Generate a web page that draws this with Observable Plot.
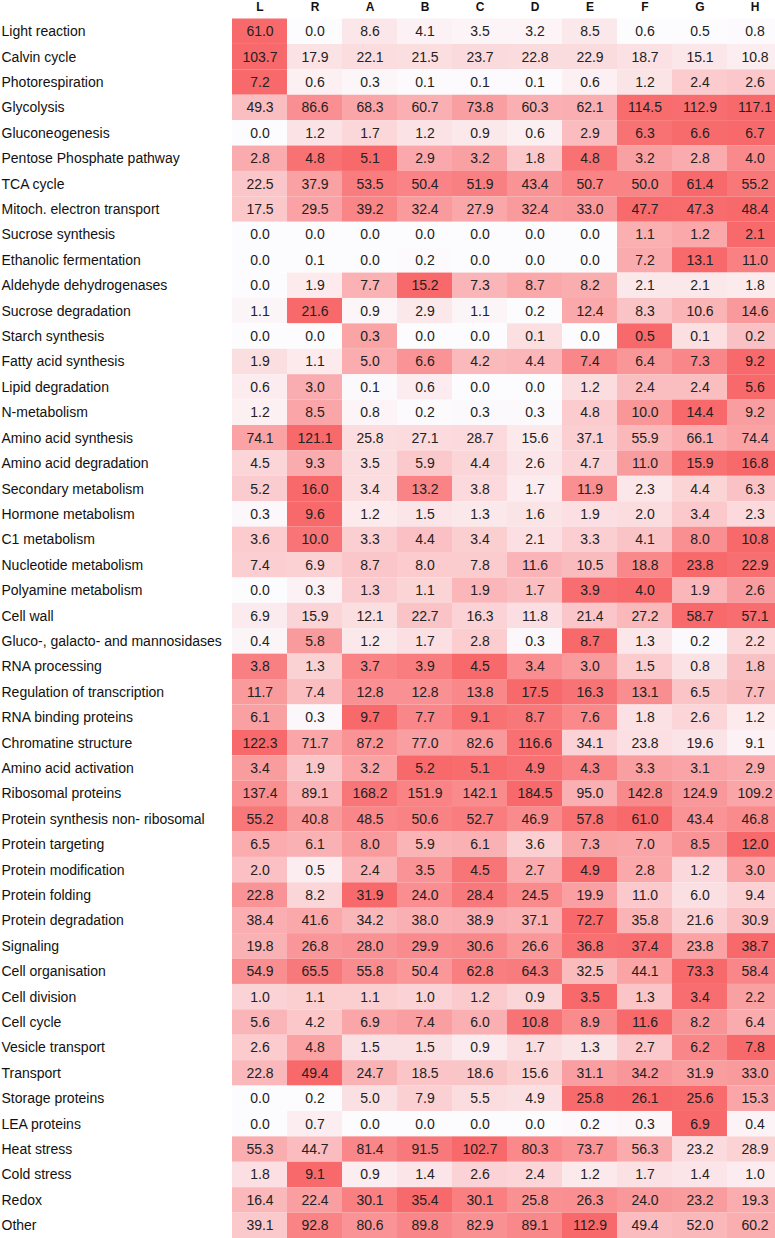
<!DOCTYPE html>
<html>
<head>
<meta charset="utf-8">
<script src="https://cdn.jsdelivr.net/npm/d3@7"></script>
<script src="https://cdn.jsdelivr.net/npm/@observablehq/plot@0.6"></script>
<style>
  html, body { margin: 0; padding: 0; background: #fff; overflow: hidden; }
  #chart svg { display: block; max-width: none !important; }
</style>
</head>
<body>
<div id="chart"></div>
<script>
const categories = [
  "Light reaction", "Calvin cycle", "Photorespiration", "Glycolysis", "Gluconeogenesis",
  "Pentose Phosphate pathway", "TCA cycle", "Mitoch. electron transport", "Sucrose synthesis",
  "Ethanolic fermentation", "Aldehyde dehydrogenases", "Sucrose degradation", "Starch synthesis",
  "Fatty acid synthesis", "Lipid degradation", "N-metabolism", "Amino acid synthesis",
  "Amino acid degradation", "Secondary metabolism", "Hormone metabolism", "C1 metabolism",
  "Nucleotide metabolism", "Polyamine metabolism", "Cell wall", "Gluco-, galacto- and mannosidases",
  "RNA processing", "Regulation of transcription", "RNA binding proteins", "Chromatine structure",
  "Amino acid activation", "Ribosomal proteins", "Protein synthesis non- ribosomal",
  "Protein targeting", "Protein modification", "Protein folding", "Protein degradation",
  "Signaling", "Cell organisation", "Cell division", "Cell cycle", "Vesicle transport",
  "Transport", "Storage proteins", "LEA proteins", "Heat stress", "Cold stress", "Redox", "Other"
];

const columns = ["L", "R", "A", "B", "C", "D", "E", "F", "G", "H"];

const L = [61.0, 103.7, 7.2, 49.3, 0.0, 2.8, 22.5, 17.5, 0.0, 0.0, 0.0, 1.1, 0.0, 1.9, 0.6, 1.2, 74.1, 4.5, 5.2, 0.3, 3.6, 7.4, 0.0, 6.9, 0.4, 3.8, 11.7, 6.1, 122.3, 3.4, 137.4, 55.2, 6.5, 2.0, 22.8, 38.4, 19.8, 54.9, 1.0, 5.6, 2.6, 22.8, 0.0, 0.0, 55.3, 1.8, 16.4, 39.1];
const R = [0.0, 17.9, 0.6, 86.6, 1.2, 4.8, 37.9, 29.5, 0.0, 0.1, 1.9, 21.6, 0.0, 1.1, 3.0, 8.5, 121.1, 9.3, 16.0, 9.6, 10.0, 6.9, 0.3, 15.9, 5.8, 1.3, 7.4, 0.3, 71.7, 1.9, 89.1, 40.8, 6.1, 0.5, 8.2, 41.6, 26.8, 65.5, 1.1, 4.2, 4.8, 49.4, 0.2, 0.7, 44.7, 9.1, 22.4, 92.8];
const A = [8.6, 22.1, 0.3, 68.3, 1.7, 5.1, 53.5, 39.2, 0.0, 0.0, 7.7, 0.9, 0.3, 5.0, 0.1, 0.8, 25.8, 3.5, 3.4, 1.2, 3.3, 8.7, 1.3, 12.1, 1.2, 3.7, 12.8, 9.7, 87.2, 3.2, 168.2, 48.5, 8.0, 2.4, 31.9, 34.2, 28.0, 55.8, 1.1, 6.9, 1.5, 24.7, 5.0, 0.0, 81.4, 0.9, 30.1, 80.6];
const B = [4.1, 21.5, 0.1, 60.7, 1.2, 2.9, 50.4, 32.4, 0.0, 0.2, 15.2, 2.9, 0.0, 6.6, 0.6, 0.2, 27.1, 5.9, 13.2, 1.5, 4.4, 8.0, 1.1, 22.7, 1.7, 3.9, 12.8, 7.7, 77.0, 5.2, 151.9, 50.6, 5.9, 3.5, 24.0, 38.0, 29.9, 50.4, 1.0, 7.4, 1.5, 18.5, 7.9, 0.0, 91.5, 1.4, 35.4, 89.8];
const C = [3.5, 23.7, 0.1, 73.8, 0.9, 3.2, 51.9, 27.9, 0.0, 0.0, 7.3, 1.1, 0.0, 4.2, 0.0, 0.3, 28.7, 4.4, 3.8, 1.3, 3.4, 7.8, 1.9, 16.3, 2.8, 4.5, 13.8, 9.1, 82.6, 5.1, 142.1, 52.7, 6.1, 4.5, 28.4, 38.9, 30.6, 62.8, 1.2, 6.0, 0.9, 18.6, 5.5, 0.0, 102.7, 2.6, 30.1, 82.9];
const D = [3.2, 22.8, 0.1, 60.3, 0.6, 1.8, 43.4, 32.4, 0.0, 0.0, 8.7, 0.2, 0.1, 4.4, 0.0, 0.3, 15.6, 2.6, 1.7, 1.6, 2.1, 11.6, 1.7, 11.8, 0.3, 3.4, 17.5, 8.7, 116.6, 4.9, 184.5, 46.9, 3.6, 2.7, 24.5, 37.1, 26.6, 64.3, 0.9, 10.8, 1.7, 15.6, 4.9, 0.0, 80.3, 2.4, 25.8, 89.1];
const E = [8.5, 22.9, 0.6, 62.1, 2.9, 4.8, 50.7, 33.0, 0.0, 0.0, 8.2, 12.4, 0.0, 7.4, 1.2, 4.8, 37.1, 4.7, 11.9, 1.9, 3.3, 10.5, 3.9, 21.4, 8.7, 3.0, 16.3, 7.6, 34.1, 4.3, 95.0, 57.8, 7.3, 4.9, 19.9, 72.7, 36.8, 32.5, 3.5, 8.9, 1.3, 31.1, 25.8, 0.2, 73.7, 1.2, 26.3, 112.9];
const F = [0.6, 18.7, 1.2, 114.5, 6.3, 3.2, 50.0, 47.7, 1.1, 7.2, 2.1, 8.3, 0.5, 6.4, 2.4, 10.0, 55.9, 11.0, 2.3, 2.0, 4.1, 18.8, 4.0, 27.2, 1.3, 1.5, 13.1, 1.8, 23.8, 3.3, 142.8, 61.0, 7.0, 2.8, 11.0, 35.8, 37.4, 44.1, 1.3, 11.6, 2.7, 34.2, 26.1, 0.3, 56.3, 1.7, 24.0, 49.4];
const G = [0.5, 15.1, 2.4, 112.9, 6.6, 2.8, 61.4, 47.3, 1.2, 13.1, 2.1, 10.6, 0.1, 7.3, 2.4, 14.4, 66.1, 15.9, 4.4, 3.4, 8.0, 23.8, 1.9, 58.7, 0.2, 0.8, 6.5, 2.6, 19.6, 3.1, 124.9, 43.4, 8.5, 1.2, 6.0, 21.6, 23.8, 73.3, 3.4, 8.2, 6.2, 31.9, 25.6, 6.9, 23.2, 1.4, 23.2, 52.0];
const H = [0.8, 10.8, 2.6, 117.1, 6.7, 4.0, 55.2, 48.4, 2.1, 11.0, 1.8, 14.6, 0.2, 9.2, 5.6, 9.2, 74.4, 16.8, 6.3, 2.3, 10.8, 22.9, 2.6, 57.1, 2.2, 1.8, 7.7, 1.2, 9.1, 2.9, 109.2, 46.8, 12.0, 3.0, 9.4, 30.9, 38.7, 58.4, 2.2, 6.4, 7.8, 33.0, 15.3, 0.4, 28.9, 1.0, 19.3, 60.2];

const series = {L, R, A, B, C, D, E, F, G, H};

// Table for the library: each value relative to its row maximum (colour), value itself (label)
const cells = [];
categories.forEach((cat, i) => {
  const rowVals = columns.map(c => series[c][i]);
  const rowMax = d3.max(rowVals) || 1;
  columns.forEach((c, j) => {
    cells.push({row: cat, col: c, value: rowVals[j], rel: rowVals[j] / rowMax});
  });
});

const marginLeft = 232;
const chart = Plot.plot({
  width: 782,
  height: 1238,
  marginLeft,
  marginRight: 0,
  marginTop: 18.5,
  marginBottom: 0,
  style: {fontFamily: "'Liberation Sans', Arial, Helvetica, sans-serif", background: "#fff", maxWidth: "none"},
  x: {domain: columns, padding: 0, round: false, axis: null},
  y: {domain: categories, padding: 0, round: false, axis: null},
  color: {type: "linear", domain: [0, 1], range: ["#FCFCFF", "#F8696B"], interpolate: "rgb"},
  marks: [
    Plot.cell(cells, {x: "col", y: "row", fill: "rel", inset: 0}),
    Plot.text(cells, {x: "col", y: "row", text: d => d.value.toFixed(1), fontSize: 14, fill: "#222"}),
    Plot.axisX({anchor: "top", tickSize: 0, tickPadding: 8, fontSize: 12, fontWeight: "bold", fill: "#111", label: null}),
    Plot.axisY({anchor: "left", tickSize: 0, tickPadding: marginLeft - 1, textAnchor: "start", fontSize: 14, fill: "#111", label: null})
  ]
});
document.getElementById("chart").appendChild(chart);
</script>
</body>
</html>
